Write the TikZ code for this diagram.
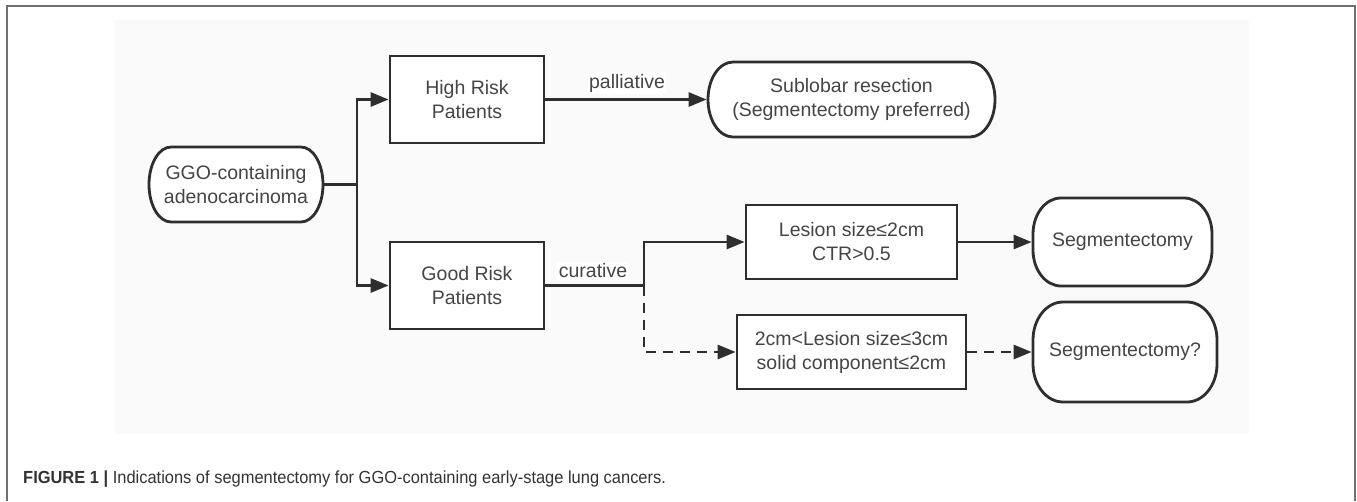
\documentclass[tikz,border=0pt]{standalone}
\usepackage{fontspec}
\setmainfont{Liberation Sans}
\newfontfamily\capfont[FakeStretch=0.94]{Liberation Sans}
\usetikzlibrary{arrows.meta}
\definecolor{linec}{HTML}{2E2E2E}
\definecolor{textc}{HTML}{454545}
\definecolor{panel}{HTML}{FAFAFA}
\definecolor{framec}{HTML}{707070}
\definecolor{captc}{HTML}{333333}
\tikzset{
  base/.style={draw=linec, line width=2.8pt, fill=white, text=textc,
    font=\fontsize{19.5}{24}\selectfont, align=center, inner sep=0pt},
  squarebox/.style={base, rectangle},
  % terminal nodes: the outline is drawn by \pillframe underneath
  roundbox/.style={base, rectangle, draw=none, fill=none},
  pillline/.style={draw=linec, line width=2.8pt, fill=white},
  wire/.style={draw=linec, line width=2.8pt},
  flow/.style={wire, -{Triangle[length=18pt,width=14pt]}},
  dflow/.style={flow, dash pattern=on 10pt off 7pt},
  edgelabel/.style={fill=white, text=textc, inner sep=1.5pt,
    font=\fontsize{19.5}{24}\selectfont}
}
% pill outline with elliptical corners: centre x, centre y, width, height, rx, ry
\newcommand\pillframe[6]{%
  \pgfmathsetmacro\pxa{#1-#3/2}\pgfmathsetmacro\pxb{#1+#3/2}%
  \pgfmathsetmacro\pya{#2-#4/2}\pgfmathsetmacro\pyb{#2+#4/2}%
  \pgfmathsetmacro\pkx{#5*0.448}\pgfmathsetmacro\pky{#6*0.448}%
  \draw[pillline] (\pxa+#5,\pya) -- (\pxb-#5,\pya)
    .. controls (\pxb-\pkx,\pya) and (\pxb,\pya+\pky) .. (\pxb,\pya+#6)
    -- (\pxb,\pyb-#6)
    .. controls (\pxb,\pyb-\pky) and (\pxb-\pkx,\pyb) .. (\pxb-#5,\pyb)
    -- (\pxa+#5,\pyb)
    .. controls (\pxa+\pkx,\pyb) and (\pxa,\pyb-\pky) .. (\pxa,\pyb-#6)
    -- (\pxa,\pya+#6)
    .. controls (\pxa,\pya+\pky) and (\pxa+\pkx,\pya) .. cycle;%
}
\begin{document}
\begin{tikzpicture}[x=1pt,y=-1pt]
  % page and panel
  \fill[white] (0,0) rectangle (1357,501);
  \useasboundingbox (0,0) rectangle (1357,501);
  \draw[framec, line width=2.2pt] (7,501) -- (7,6) -- (1355,6) -- (1355,501);
  \fill[panel] (115,20) rectangle (1249,434);

  % terminal outlines
  \pillframe{236}{184.5}{174}{75}{22}{37.5}
  \pillframe{851.5}{99.5}{287}{75}{25}{37.5}
  \pillframe{1122.5}{242}{179}{88}{28}{36}
  \pillframe{1125}{352}{184}{100}{30}{38}

  % nodes
  \node[roundbox, minimum width=174pt, minimum height=75pt] (ggo) at (236,184.5)
    {GGO-containing\\adenocarcinoma};
  \node[squarebox, minimum width=154pt, minimum height=87pt] (high) at (467,99.5)
    {High Risk\\Patients};
  \node[squarebox, minimum width=154pt, minimum height=87pt] (good) at (467,285.5)
    {Good Risk\\Patients};
  \node[roundbox, minimum width=287pt, minimum height=75pt] (sub) at (851.5,99.5)
    {Sublobar resection\\(Segmentectomy preferred)};
  \node[squarebox, minimum width=211pt, minimum height=74pt] (les1) at (851.5,242)
    {Lesion size≤2cm\\CTR>0.5};
  \node[squarebox, minimum width=229pt, minimum height=74pt] (les2) at (851.5,352)
    {2cm<Lesion size≤3cm\\solid component≤2cm};
  \node[roundbox, minimum width=179pt, minimum height=88pt] (seg1) at (1122.5,242)
    {Segmentectomy};
  \node[roundbox, minimum width=184pt, minimum height=100pt] (seg2) at (1125,352)
    {Segmentectomy?};

  % branch points
  \coordinate (j1) at (357,184.5);
  \coordinate (j2) at (644,285.5);

  % connectors
  \draw[wire] (ggo.east) -- (j1);
  \draw[flow] (j1) |- (high.west);
  \draw[flow] (j1) |- (good.west);
  \draw[flow] (high.east) -- (sub.west);
  \draw[wire] (good.east) -- (j2);
  \draw[flow] (j2) |- (les1.west);
  \draw[dflow] (j2) |- (les2.west);
  \draw[flow] (les1.east) -- (seg1.west);
  \draw[dflow] (les2.east) -- (seg2.west);

  % edge labels
  \node[edgelabel] (pal) at (627,83) {palliative};
  \node[edgelabel] (cur) at (593,271) {curative};

  % caption
  \node[anchor=west, text=captc, inner sep=0pt] (cap) at (23,479)
    {\capfont\fontsize{17.5}{20}\selectfont\textbf{FIGURE 1 |} Indications of segmentectomy for GGO-containing early-stage lung cancers.};
\end{tikzpicture}
\end{document}
